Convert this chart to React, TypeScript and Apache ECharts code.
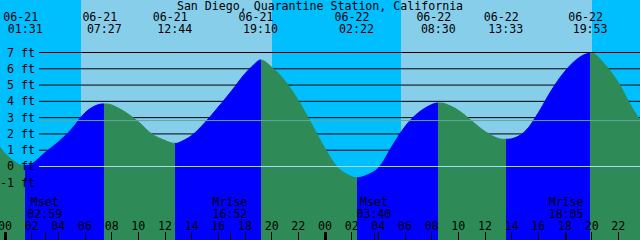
import React, { useEffect, useRef } from "react";
import * as echarts from "echarts";

// ---------- data ----------
const TITLE = "San Diego, Quarantine Station, California";

// hourly tide level (ft), hour 0 = 06-21 00:00
const HOURS = [
  -1, 0, 1, 2, 3, 4, 5, 6, 7, 8, 9, 10, 11, 12, 13, 14, 15, 16, 17, 18, 19, 20, 21, 22, 23, 24,
  25, 26, 27, 28, 29, 30, 31, 32, 33, 34, 35, 36, 37, 38, 39, 40, 41, 42, 43, 44, 45, 46, 47, 48,
];
const LEVELS = [
  1.9, 0.8, 0.15, 0.15, 0.85, 1.5, 2.3, 3.3, 3.8, 3.78, 3.35, 2.75, 2.0, 1.6, 1.45, 1.9, 2.7, 3.65,
  4.65, 5.7, 6.5, 6.1, 5.25, 4.05, 2.6, 1.1, -0.1, -0.62, -0.58, -0.1, 1.2, 2.45, 3.3, 3.8, 3.85,
  3.45, 2.8, 2.15, 1.72, 1.7, 2.15, 3.3, 4.7, 5.85, 6.65, 6.95, 6.25, 5.15, 3.65, 2.4,
];

const EXTREME_DATES = ["06-21", "06-21", "06-21", "06-21", "06-22", "06-22", "06-22", "06-22"];
const EXTREME_TIMES = ["01:31", "07:27", "12:44", "19:10", "02:22", "08:30", "13:33", "19:53"];
const EXTREME_LEVELS = [0.07, 3.84, 1.42, 6.54, -0.69, 3.9, 1.67, 6.95];
const EXTREME_KINDS = ["low", "high", "low", "high", "low", "high", "low", "high"];

const SUN_DATES = ["06-21", "06-21", "06-22", "06-22"];
const SUN_TIMES = ["05:42", "20:01", "05:42", "20:01"]; // rise, set, rise, set

const MOON_DATES = ["06-21", "06-21", "06-22", "06-22"];
const MOON_TIMES = ["02:59", "16:52", "03:40", "18:05"];
const MOON_EVENTS = ["Mset", "Mrise", "Mset", "Mrise"];

const HOUR_LABELS = [0, 2, 4, 6, 8, 10, 12, 14, 16, 18, 20, 22, 24, 26, 28, 30, 32, 34, 36, 38, 40, 42, 44, 46, 48];
const MIDNIGHTS = [0, 24, 48];
const LEVEL_LINES = [1, 2, 3, 4, 5, 6, 7];
const LEVEL_LABELS = [-1, 0, 1, 2, 3, 4, 5, 6, 7];
const DATUM_LEVEL = 0;
const MEAN_LEVEL = 2.82;

// ---------- layout / style ----------
const X_MIN = -0.375;
const X_MAX = 47.625;
const Y_MIN = -4.5132;
const Y_MAX = 10.2237;
const LINE_START_H = 2.55;

const FONT = '"DejaVu Sans Mono", monospace';
const FS = 11.6;
const NIGHT = "#00BFFF";
const DAY = "#87CEEB";
const RISE = "#0000FF";
const FALL = "#2E8B57";
const MEAN_COLOR = "#62a898";
const DATUM_COLOR = "#a6dcec";

const toHour = (date: string, time: string) => {
  const [hh, mm] = time.split(":").map(Number);
  return (date === "06-22" ? 24 : 0) + hh + mm / 60;
};

const two = (n: number) => String(n).padStart(2, "0");

export default function App() {
  const ref = useRef<HTMLDivElement>(null);

  useEffect(() => {
    document.body.style.margin = "0";
    if (!ref.current) return;
    const chart = echarts.init(ref.current, undefined, { renderer: "svg" });

    const extHours = EXTREME_TIMES.map((t, i) => toHour(EXTREME_DATES[i], t));
    const sunHours = SUN_TIMES.map((t, i) => toHour(SUN_DATES[i], t));
    const moonHours = MOON_TIMES.map((t, i) => toHour(MOON_DATES[i], t));

    const points = [
      ...HOURS.map((h, i) => [h, LEVELS[i]]),
      ...extHours.map((h, i) => [h, EXTREME_LEVELS[i]]),
    ].sort((a, b) => a[0] - b[0]);

    // rising (blue) after a low, falling (green) after a high
    const pieces: any[] = [];
    extHours.forEach((h, i) => {
      const color = EXTREME_KINDS[i] === "low" ? FALL : RISE;
      if (i === 0) pieces.push({ lt: h, color });
      else pieces.push({ gte: extHours[i - 1], lt: h, color });
    });
    pieces.push({
      gte: extHours[extHours.length - 1],
      color: EXTREME_KINDS[EXTREME_KINDS.length - 1] === "high" ? FALL : RISE,
    });

    const bounds = [X_MIN, ...sunHours, X_MAX];
    const skyData = bounds.slice(0, -1).map((b, i) => [
      { xAxis: b, itemStyle: { color: i % 2 === 0 ? NIGHT : DAY, opacity: 1 } },
      { xAxis: bounds[i + 1] },
    ]);

    const findIdx = (arr: number[], v: number) => {
      let best = 0;
      arr.forEach((a, i) => {
        if (Math.abs(a - v) < Math.abs(arr[best] - v)) best = i;
      });
      return best;
    };

    const tickVals = [
      ...HOUR_LABELS.filter((h) => h % 24 !== 0),
      ...moonHours,
    ];

    const axisBase = {
      type: "value",
      min: X_MIN,
      max: X_MAX,
      axisLine: { show: false, onZero: false },
      splitLine: { show: false },
      z: 10,
    };
    const textBase = { color: "#000", fontFamily: FONT, fontSize: FS };

    const levelSeries = LEVEL_LINES.map((v) => ({
      type: "line",
      data: [
        [LINE_START_H, v],
        [X_MAX, v],
      ],
      symbol: "none",
      silent: true,
      z: 2,
      lineStyle: { color: "#000", width: 1 },
    }));

    const option: any = {
      animation: false,
      title: {
        text: TITLE,
        left: "center",
        top: 0,
        padding: 0,
        z: 10,
        textStyle: { ...textBase, fontWeight: "normal", lineHeight: 12 },
      },
      grid: { left: 0, right: 0, top: 0, bottom: 0, containLabel: false, outerBoundsMode: "none" },
      xAxis: [
        {
          ...axisBase,
          position: "bottom",
          axisTick: {
            show: true,
            inside: true,
            length: 8,
            customValues: tickVals,
            lineStyle: { color: "#000", width: 1 },
          },
          axisLabel: {
            show: true,
            inside: true,
            margin: 8,
            customValues: HOUR_LABELS,
            formatter: (v: number) => two(((Math.round(v) % 24) + 24) % 24),
            ...textBase,
            lineHeight: 12,
          },
        },
        {
          ...axisBase,
          position: "top",
          axisTick: { show: false },
          axisLabel: {
            show: true,
            inside: true,
            margin: 11,
            customValues: extHours,
            formatter: (v: number) => {
              const i = findIdx(extHours, v);
              return `{d|${EXTREME_DATES[i]}}\n{t|${EXTREME_TIMES[i]}}`;
            },
            ...textBase,
            lineHeight: 12,
            rich: {
              d: { ...textBase, lineHeight: 12, padding: [0, 9, 0, 0] },
              t: { ...textBase, lineHeight: 12 },
            },
          },
        },
        {
          ...axisBase,
          position: "bottom",
          axisTick: {
            show: true,
            inside: true,
            length: 8,
            customValues: MIDNIGHTS,
            lineStyle: { color: "#000", width: 3 },
          },
          axisLabel: { show: false },
        },
        {
          ...axisBase,
          position: "bottom",
          axisTick: { show: false },
          axisLabel: {
            show: true,
            inside: true,
            margin: 20,
            customValues: moonHours,
            formatter: (v: number) => {
              const i = findIdx(moonHours, v);
              return `${MOON_EVENTS[i]}\n${MOON_TIMES[i]}`;
            },
            ...textBase,
            lineHeight: 12,
          },
        },
      ],
      yAxis: {
        type: "value",
        min: Y_MIN,
        max: Y_MAX,
        axisLine: { show: false, onZero: false },
        splitLine: { show: false },
        axisTick: { show: false },
        z: 10,
        axisLabel: {
          show: true,
          inside: true,
          margin: 35,
          align: "right",
          customValues: LEVEL_LABELS,
          formatter: (v: number) => `${v} ft`,
          ...textBase,
        },
      },
      visualMap: {
        type: "piecewise",
        show: false,
        dimension: 0,
        seriesIndex: 1 + LEVEL_LINES.length,
        pieces,
      },
      series: [
        {
          type: "line",
          data: [],
          silent: true,
          z: 1,
          markArea: { silent: true, z: 1, data: skyData },
        },
        ...levelSeries,
        {
          type: "line",
          data: points,
          smooth: 0.35,
          symbol: "none",
          silent: true,
          z: 3,
          lineStyle: { width: 1 },
          areaStyle: { opacity: 1, origin: "start" },
        },
        {
          type: "line",
          data: [
            [LINE_START_H, DATUM_LEVEL],
            [X_MAX, DATUM_LEVEL],
          ],
          symbol: "none",
          silent: true,
          z: 4,
          lineStyle: { color: DATUM_COLOR, width: 1 },
        },
        {
          type: "line",
          data: [
            [LINE_START_H, MEAN_LEVEL],
            [X_MAX, MEAN_LEVEL],
          ],
          symbol: "none",
          silent: true,
          z: 4,
          lineStyle: { color: MEAN_COLOR, width: 1 },
        },
      ],
    };

    chart.setOption(option);
    return () => chart.dispose();
  }, []);

  return <div ref={ref} style={{ width: 640, height: 240 }} />;
}
